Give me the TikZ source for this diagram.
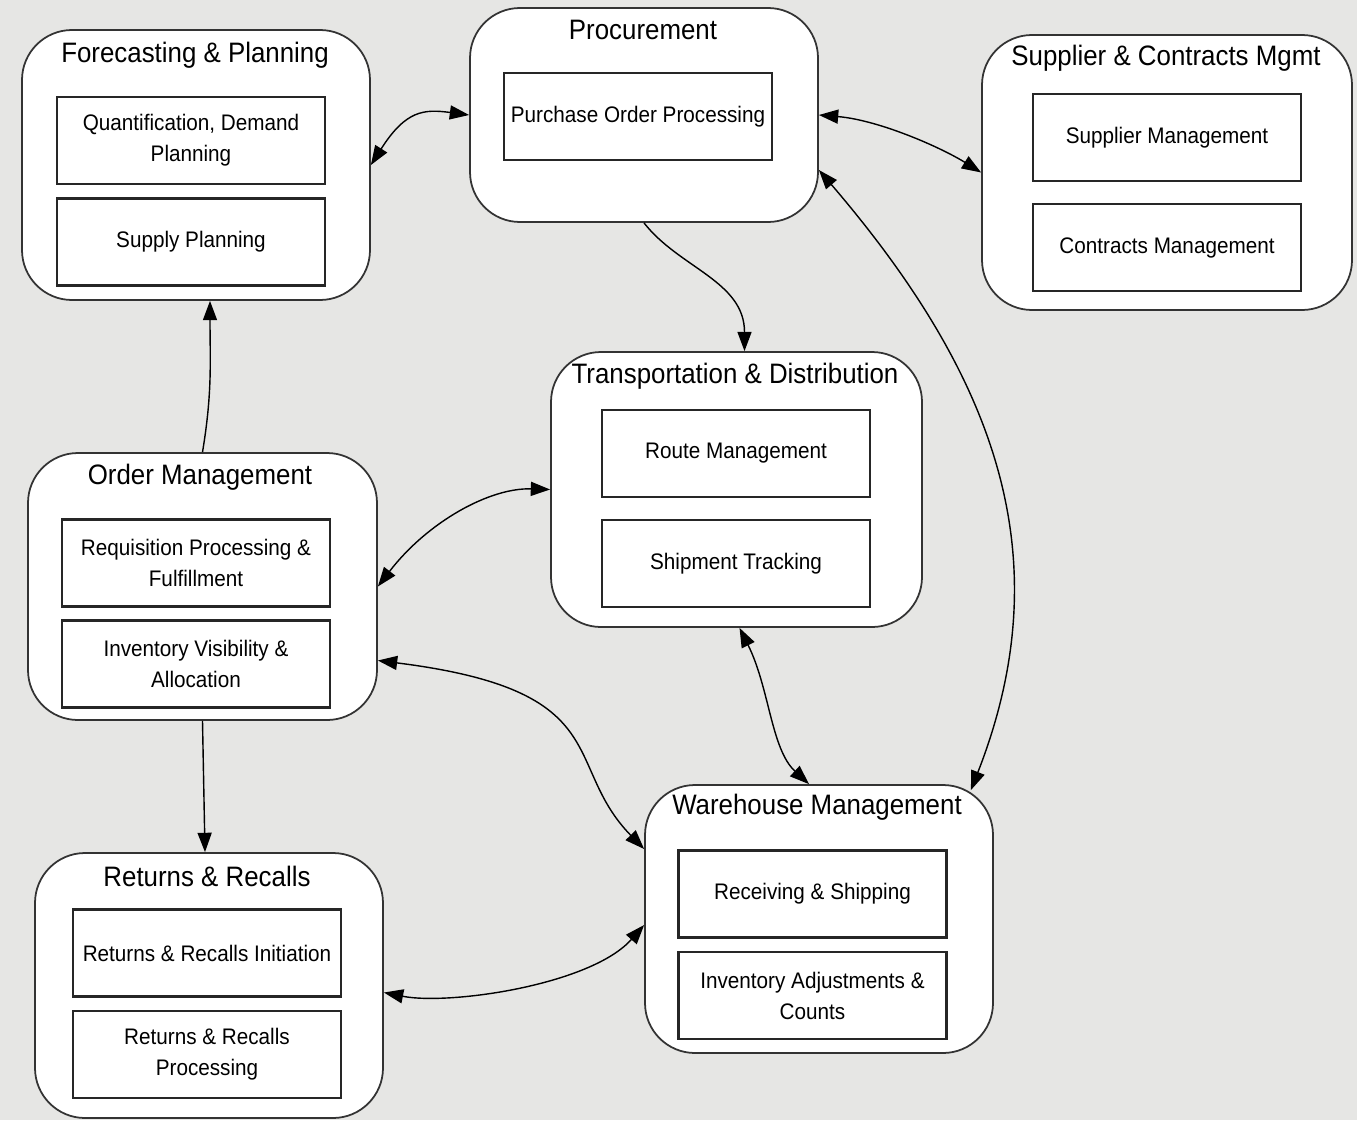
\documentclass[tikz,border=0pt]{standalone}
\usepackage{fontspec}
\setmainfont{Liberation Sans}[FakeStretch=0.92]
\usepackage{tikz}
\usetikzlibrary{arrows.meta}
\definecolor{bgcol}{RGB}{230,230,228}
\tikzset{
    group/.style={draw=black!80,fill=white,rounded corners=0.5cm,line width=0.5pt},
    grouptitle/.style={font=\fontsize{8}{9.6}\selectfont,inner sep=0pt},
    task/.style={draw=black!85,fill=white,line width=0.7pt,minimum width=2.68cm,minimum height=0.87cm,
        align=center,inner sep=1pt,font=\fontsize{6.4}{8.8}\selectfont},
    tip/.tip={Triangle[length=5.5pt,width=4pt]},
    link/.style={black,line width=0.4pt,-tip},
    twoway/.style={black,line width=0.4pt,tip-tip}
}
\begin{document}
\begin{tikzpicture}
\path[use as bounding box,fill=bgcol] (0,0) rectangle (13.57,-11.2);

\node[group,minimum width=3.48cm,minimum height=2.7cm] (fp) at (1.96,-1.65) {};
\node[grouptitle] (fptitle) at (1.95,-0.55) {Forecasting \& Planning};
\node[task] (quant) at (1.91,-1.405) {Quantification, Demand\\Planning};
\node[task] (supply) at (1.91,-2.42) {Supply Planning};

\node[group,minimum width=3.48cm,minimum height=2.14cm] (proc) at (6.44,-1.15) {};
\node[grouptitle] (proctitle) at (6.43,-0.30) {Procurement};
\node[task] (po) at (6.38,-1.165) {Purchase Order Processing};

\node[group,minimum width=3.7cm,minimum height=2.75cm] (supp) at (11.67,-1.725) {};
\node[grouptitle] (supptitle) at (11.66,-0.58) {Supplier \& Contracts Mgmt};
\node[task] (suppm) at (11.67,-1.375) {Supplier Management};
\node[task] (contr) at (11.67,-2.475) {Contracts Management};

\node[group,minimum width=3.71cm,minimum height=2.75cm] (trans) at (7.365,-4.895) {};
\node[grouptitle] (transtitle) at (7.35,-3.76) {Transportation \& Distribution};
\node[task] (route) at (7.36,-4.535) {Route Management};
\node[task] (ship) at (7.36,-5.635) {Shipment Tracking};

\node[group,minimum width=3.49cm,minimum height=2.67cm] (order) at (2.025,-5.865) {};
\node[grouptitle] (ordertitle) at (2.0,-4.77) {Order Management};
\node[task] (req) at (1.96,-5.63) {Requisition Processing \&\\Fulfillment};
\node[task] (invvis) at (1.96,-6.64) {Inventory Visibility \&\\Allocation};

\node[group,minimum width=3.48cm,minimum height=2.65cm] (ret) at (2.09,-9.855) {};
\node[grouptitle] (rettitle) at (2.07,-8.76) {Returns \& Recalls};
\node[task] (retinit) at (2.07,-9.53) {Returns \& Recalls Initiation};
\node[task] (retproc) at (2.07,-10.545) {Returns \& Recalls\\Processing};

\node[group,minimum width=3.48cm,minimum height=2.68cm] (wh) at (8.19,-9.19) {};
\node[grouptitle] (whtitle) at (8.17,-8.07) {Warehouse Management};
\node[task] (recv) at (8.125,-8.94) {Receiving \& Shipping};
\node[task] (invadj) at (8.125,-9.955) {Inventory Adjustments \&\\Counts};

\draw[twoway] (fp.east) .. controls +(0.35,0.55) and +(-0.45,0.06) .. (proc.west);
\draw[twoway] (proc.east) .. controls +(0.6,-0.05) and +(-0.4,0.25) .. (supp.west);
\draw[link] (proc.south) .. controls +(0.35,-0.45) and +(0,0.7) .. ([xshift=0.08cm]trans.north);
\draw[twoway] ([yshift=-0.55cm]proc.east) .. controls +(1.8,-2.1) and +(0.9,2.3) .. ([xshift=-0.23cm,yshift=-0.06cm]wh.north east);
\draw[link] (order.north) .. controls +(0.1,0.6) and +(0,-0.6) .. ([xshift=0.14cm]fp.south);
\draw[twoway] (order.east) .. controls +(0.5,0.65) and +(-0.6,0.02) .. (trans.west);
\draw[twoway] ([yshift=-0.74cm]order.east) .. controls +(2.4,-0.3) and +(-0.83,0.85) .. ([yshift=0.7cm]wh.west);
\draw[link] (order.south) -- ([xshift=-0.04cm]ret.north);
\draw[twoway] ([xshift=0.03cm]trans.south) .. controls +(0.3,-0.6) and +(-0.38,0.35) .. ([xshift=-0.1cm]wh.north);
\draw[twoway] ([yshift=-0.07cm]ret.east) .. controls +(0.65,-0.13) and +(-0.53,-0.6) .. ([yshift=-0.06cm]wh.west);
\end{tikzpicture}
\end{document}
